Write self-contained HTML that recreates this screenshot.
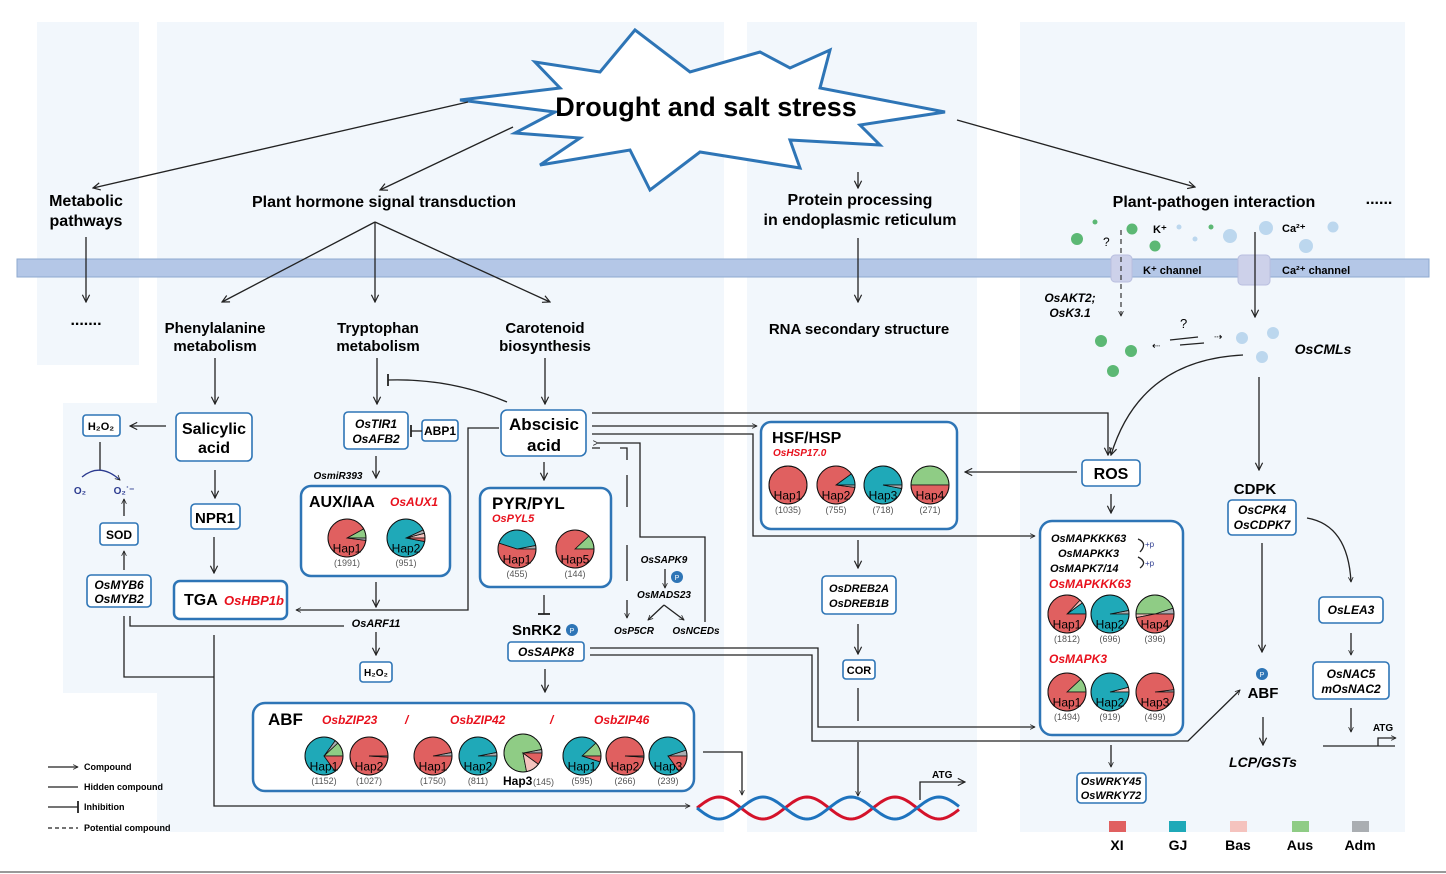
<!DOCTYPE html>
<html><head><meta charset="utf-8"><style>
body{margin:0;background:#fff}
svg{display:block;font-family:"Liberation Sans",Arial,sans-serif}
.b{font-weight:bold}
.i{font-style:italic;font-weight:bold}
.bx{fill:#fff;stroke:#2e75b6;stroke-width:1.6}
.bb{fill:#fff;stroke:#2e75b6;stroke-width:2.5}
.ln{stroke:#222;stroke-width:1.3;fill:none}
.red{fill:#e8101c}
</style></head><body>
<svg id="s" width="1446" height="874" viewBox="0 0 1446 874" xmlns="http://www.w3.org/2000/svg">
<defs>
<marker id="a" viewBox="0 0 10 10" refX="9" refY="5" markerWidth="9" markerHeight="9" orient="auto-start-reverse" markerUnits="userSpaceOnUse"><path d="M1 1 L9 5 L1 9" fill="none" stroke="#222" stroke-width="1.3"/></marker>
<marker id="as" viewBox="0 0 10 10" refX="9" refY="5" markerWidth="6" markerHeight="6" orient="auto" markerUnits="userSpaceOnUse"><path d="M1 1 L9 5 L1 9" fill="none" stroke="#222" stroke-width="1.3"/></marker>
<marker id="t" viewBox="0 0 10 10" refX="5" refY="5" markerWidth="12" markerHeight="12" orient="auto" markerUnits="userSpaceOnUse"><path d="M5 0 L5 10" stroke="#222" stroke-width="1.5"/></marker>
</defs>
<g fill="#f2f7fc">
<rect x="37" y="22" width="102" height="343"/>
<rect x="157" y="22" width="567" height="810"/>
<rect x="63" y="403" width="100" height="290"/>
<rect x="747" y="22" width="230" height="810"/>
<rect x="1020" y="22" width="385" height="810"/>
</g>
<line x1="0" y1="872" x2="1446" y2="872" stroke="#333" stroke-width="1"/>
<rect x="17" y="259" width="1412" height="18" fill="#b4c7e7" stroke="#8ea9cf" stroke-width="1"/>
<polygon points="635,30 690,72 760,52 790,68 830,50 820,88 945,112 860,125 880,145 790,140 800,168 700,152 650,190 630,150 540,165 580,138 515,133 555,112 460,100 560,88 535,62 600,72" fill="#fff" stroke="#2e75b6" stroke-width="3"/>
<text x="706" y="116" font-size="27" class="b" text-anchor="middle">Drought and salt stress</text>
<line class="ln" x1="468" y1="102" x2="93" y2="188" marker-end="url(#a)"/>
<line class="ln" x1="513" y1="127" x2="380" y2="190" marker-end="url(#a)"/>
<line class="ln" x1="858" y1="172" x2="858" y2="188" marker-end="url(#a)"/>
<line class="ln" x1="957" y1="120" x2="1195" y2="187" marker-end="url(#a)"/>
<g font-size="16" class="b">
<text x="86" y="206" text-anchor="middle">Metabolic</text><text x="86" y="226" text-anchor="middle">pathways</text>
<text x="384" y="207" text-anchor="middle">Plant hormone signal transduction</text>
<text x="860" y="205" text-anchor="middle">Protein processing</text><text x="860" y="225" text-anchor="middle">in endoplasmic reticulum</text>
<text x="1214" y="207" text-anchor="middle">Plant-pathogen interaction</text>
<text x="1379" y="204" text-anchor="middle">......</text>
<text x="86" y="325" text-anchor="middle">.......</text>
</g>
<line class="ln" x1="86" y1="237" x2="86" y2="302" marker-end="url(#a)"/>
<line class="ln" x1="375" y1="222" x2="222" y2="302" marker-end="url(#a)"/>
<line class="ln" x1="375" y1="222" x2="375" y2="302" marker-end="url(#a)"/>
<line class="ln" x1="375" y1="222" x2="550" y2="302" marker-end="url(#a)"/>
<line class="ln" x1="858" y1="238" x2="858" y2="302" marker-end="url(#a)"/>
<g font-size="15" class="b" text-anchor="middle">
<text x="215" y="333">Phenylalanine</text><text x="215" y="351">metabolism</text>
<text x="378" y="333">Tryptophan</text><text x="378" y="351">metabolism</text>
<text x="545" y="333">Carotenoid</text><text x="545" y="351">biosynthesis</text>
<text x="859" y="334">RNA secondary structure</text>
</g>
<rect x="1111" y="255" width="21" height="27" rx="4" fill="#cdd1ea" stroke="#b9bedf"/>
<rect x="1238" y="255" width="32" height="30" rx="4" fill="#cdd1ea" stroke="#b9bedf"/>
<text x="1143" y="274" font-size="11" class="b">K⁺ channel</text>
<text x="1282" y="274" font-size="11" class="b">Ca²⁺ channel</text>
<g fill="#5cb874"><circle cx="1077" cy="239" r="6"/><circle cx="1132" cy="229" r="5.5"/><circle cx="1155" cy="246" r="5.5"/><circle cx="1095" cy="222" r="2.5"/><circle cx="1211" cy="227" r="2.5"/><circle cx="1101" cy="341" r="6"/><circle cx="1131" cy="351" r="6"/><circle cx="1113" cy="371" r="6"/></g>
<g fill="#bcd7ee"><circle cx="1179" cy="227" r="2.5"/><circle cx="1195" cy="239" r="2.5"/><circle cx="1230" cy="236" r="7"/><circle cx="1266" cy="228" r="7"/><circle cx="1306" cy="246" r="7"/><circle cx="1333" cy="227" r="5.5"/><circle cx="1242" cy="338" r="6"/><circle cx="1273" cy="333" r="6"/><circle cx="1262" cy="357" r="6"/></g>
<text x="1153" y="233" font-size="11" class="b">K⁺</text>
<text x="1282" y="232" font-size="11" class="b">Ca²⁺</text>
<text x="1103" y="246" font-size="12">?</text>
<text x="1180" y="328" font-size="13">?</text>
<line x1="1121" y1="230" x2="1121" y2="316" stroke="#333" stroke-width="1.2" stroke-dasharray="5,4" marker-end="url(#as)"/>
<line class="ln" x1="1255" y1="232" x2="1255" y2="317" marker-end="url(#a)"/>
<line class="ln" x1="1170" y1="340" x2="1198" y2="337"/><line class="ln" x1="1180" y1="345" x2="1204" y2="343"/>
<text x="1152" y="349" font-size="10">⇠</text><text x="1214" y="340" font-size="10">⇢</text>
<text x="1070" y="302" font-size="12" class="i" text-anchor="middle">OsAKT2;</text>
<text x="1070" y="317" font-size="12" class="i" text-anchor="middle">OsK3.1</text>
<text x="1323" y="354" font-size="14" class="i" text-anchor="middle">OsCMLs</text>
<path class="ln" d="M1243 355 Q1140 360 1111 455" marker-end="url(#a)"/>
<line class="ln" x1="1259" y1="377" x2="1259" y2="470" marker-end="url(#a)"/>
<line class="ln" x1="215" y1="358" x2="215" y2="404" marker-end="url(#a)"/>
<line class="ln" x1="377" y1="358" x2="377" y2="404" marker-end="url(#a)"/>
<line class="ln" x1="545" y1="358" x2="545" y2="404" marker-end="url(#a)"/>
<path class="ln" d="M388 380 L388 380 Q450 378 507 402" marker-start="url(#t)"/>
<rect class="bx" x="176" y="413" width="76" height="48" rx="5"/>
<text x="214" y="434" font-size="16" class="b" text-anchor="middle">Salicylic</text><text x="214" y="453" font-size="16" class="b" text-anchor="middle">acid</text>
<rect class="bx" x="83" y="415" width="37" height="21" rx="3"/><text x="101" y="430" font-size="11" class="b" text-anchor="middle">H₂O₂</text>
<line class="ln" x1="166" y1="426" x2="130" y2="426" marker-end="url(#a)"/>
<line class="ln" x1="100" y1="442" x2="100" y2="470"/>
<path d="M82 477 Q100 462 120 480" fill="none" stroke="#2b3a8f" stroke-width="1.3" marker-end="url(#as)"/>
<text x="80" y="494" font-size="10" fill="#2b3a8f" class="b" text-anchor="middle">O₂</text>
<text x="124" y="494" font-size="10" fill="#2b3a8f" class="b" text-anchor="middle">O₂˙⁻</text>
<line class="ln" x1="124" y1="516" x2="124" y2="499" marker-end="url(#as)"/>
<rect class="bx" x="100" y="523" width="38" height="22" rx="3"/><text x="119" y="539" font-size="12" class="b" text-anchor="middle">SOD</text>
<line class="ln" x1="124" y1="570" x2="124" y2="551" marker-end="url(#as)"/>
<rect class="bx" x="87" y="575" width="64" height="32" rx="4"/>
<text x="119" y="589" font-size="12" class="i" text-anchor="middle">OsMYB6</text><text x="119" y="603" font-size="12" class="i" text-anchor="middle">OsMYB2</text>
<line class="ln" x1="215" y1="470" x2="215" y2="498" marker-end="url(#a)"/>
<rect class="bx" x="191" y="504" width="49" height="25" rx="4"/><text x="215" y="523" font-size="15" class="b" text-anchor="middle">NPR1</text>
<line class="ln" x1="214" y1="537" x2="214" y2="573" marker-end="url(#a)"/>
<rect class="bb" x="174" y="581" width="113" height="38" rx="6"/>
<text x="184" y="605" font-size="16" class="b">TGA</text><text x="224" y="605" font-size="13" class="i red">OsHBP1b</text>
<rect class="bx" x="344" y="412" width="64" height="37" rx="4"/>
<text x="376" y="428" font-size="12" class="i" text-anchor="middle">OsTIR1</text><text x="376" y="443" font-size="12" class="i" text-anchor="middle">OsAFB2</text>
<rect class="bx" x="422" y="420" width="36" height="21" rx="3"/><text x="440" y="435" font-size="12" class="b" text-anchor="middle">ABP1</text>
<line class="ln" x1="422" y1="431" x2="411" y2="431" marker-end="url(#t)"/>
<text x="338" y="479" font-size="10" class="i" text-anchor="middle">OsmiR393</text>
<line class="ln" x1="376" y1="456" x2="376" y2="478" marker-end="url(#a)"/>
<rect class="bb" x="301" y="486" width="149" height="90" rx="10"/>
<text x="309" y="507" font-size="16" class="b">AUX/IAA</text><text x="390" y="506" font-size="12" class="i red">OsAUX1</text>
<line class="ln" x1="376" y1="582" x2="376" y2="607" marker-end="url(#a)"/>
<path class="ln" d="M499 428 L468 428 L468 610 L296 610" marker-end="url(#as)"/>
<text x="376" y="627" font-size="11" class="i" text-anchor="middle">OsARF11</text>
<path class="ln" d="M344 626 L130 626 L130 616"/>
<line class="ln" x1="376" y1="632" x2="376" y2="655" marker-end="url(#a)"/>
<rect class="bx" x="360" y="662" width="32" height="20" rx="3"/><text x="376" y="676" font-size="10" class="b" text-anchor="middle">H₂O₂</text>
<path class="ln" d="M124 616 L124 677 L214 677"/>
<path class="ln" d="M214 635 L214 806 L690 806" marker-end="url(#as)"/>
<rect class="bx" x="501" y="410" width="85" height="46" rx="6"/>
<text x="544" y="430" font-size="17" class="b" text-anchor="middle">Abscisic</text><text x="544" y="451" font-size="17" class="b" text-anchor="middle">acid</text>
<line class="ln" x1="544" y1="462" x2="544" y2="480" marker-end="url(#a)"/>
<rect class="bb" x="480" y="488" width="131" height="99" rx="10"/>
<text x="492" y="509" font-size="17" class="b">PYR/PYL</text><text x="492" y="522" font-size="11" class="i red">OsPYL5</text>
<line class="ln" x1="544" y1="595" x2="544" y2="614" marker-end="url(#t)"/>
<text x="512" y="635" font-size="15" class="b">SnRK2</text>
<circle cx="572" cy="630" r="6" fill="#2e75b6"/><text x="572" y="633" font-size="7" fill="#fff" text-anchor="middle">P</text>
<rect class="bx" x="508" y="642" width="76" height="19" rx="3"/><text x="546" y="656" font-size="12" class="i" text-anchor="middle">OsSAPK8</text>
<line class="ln" x1="545" y1="669" x2="545" y2="692" marker-end="url(#a)"/>
<path class="ln" d="M592 448 L600 448 M620 448 L627 448 L627 460 M627 475 L627 507 M627 545 L627 581" />
<line x1="627" y1="600" x2="627" y2="618" class="ln" marker-end="url(#as)"/>
<path class="ln" d="M598 443 L640 443 L640 537 L705 537 L705 622" marker-start="url(#as)"/>
<text x="664" y="563" font-size="10" class="i" text-anchor="middle">OsSAPK9</text>
<line class="ln" x1="665" y1="569" x2="665" y2="588" marker-end="url(#as)"/>
<circle cx="677" cy="577" r="6" fill="#2e75b6"/><text x="677" y="580" font-size="7" fill="#fff" text-anchor="middle">P</text>
<text x="664" y="598" font-size="10" class="i" text-anchor="middle">OsMADS23</text>
<line class="ln" x1="664" y1="605" x2="648" y2="620" marker-end="url(#as)"/>
<line class="ln" x1="664" y1="605" x2="684" y2="620" marker-end="url(#as)"/>
<text x="634" y="634" font-size="10" class="i" text-anchor="middle">OsP5CR</text>
<text x="696" y="634" font-size="10" class="i" text-anchor="middle">OsNCEDs</text>
<path class="ln" d="M592 413 L1108 413 L1108 455" marker-end="url(#a)"/>
<line class="ln" x1="592" y1="426" x2="757" y2="426" marker-end="url(#as)"/>
<path class="ln" d="M592 434 L753 434 L753 536 L1035 536" marker-end="url(#as)"/>
<path class="ln" d="M590 648 L818 648 L818 727 L1035 727" marker-end="url(#as)"/>
<path class="ln" d="M590 655 L812 655 L812 741 L1188 741 L1240 690" marker-end="url(#as)"/>
<rect class="bb" x="253" y="703" width="441" height="88" rx="12"/>
<text x="268" y="725" font-size="17" class="b">ABF</text>
<g font-size="12" class="i red"><text x="322" y="724">OsbZIP23</text><text x="405" y="724">/</text><text x="450" y="724">OsbZIP42</text><text x="550" y="724">/</text><text x="594" y="724">OsbZIP46</text></g>
<path class="ln" d="M703 752 L742 752 L742 795" marker-end="url(#as)"/>
<path id="dr" fill="none" stroke="#d4122a" stroke-width="3"/>
<path id="db" fill="none" stroke="#1e73be" stroke-width="3"/>
<path class="ln" d="M920 800 L920 782 L965 782" marker-end="url(#a)"/>
<text x="932" y="778" font-size="10" class="b">ATG</text>
<rect class="bb" x="761" y="422" width="196" height="107" rx="10"/>
<text x="772" y="443" font-size="16" class="b">HSF/HSP</text><text x="773" y="456" font-size="10" class="i red">OsHSP17.0</text>
<line class="ln" x1="1077" y1="472" x2="965" y2="472" marker-end="url(#a)"/>
<line class="ln" x1="858" y1="540" x2="858" y2="568" marker-end="url(#a)"/>
<rect class="bx" x="822" y="576" width="74" height="38" rx="4"/>
<text x="859" y="592" font-size="11" class="i" text-anchor="middle">OsDREB2A</text><text x="859" y="607" font-size="11" class="i" text-anchor="middle">OsDREB1B</text>
<line class="ln" x1="858" y1="624" x2="858" y2="654" marker-end="url(#a)"/>
<rect class="bx" x="843" y="660" width="32" height="19" rx="3"/><text x="859" y="674" font-size="11" class="b" text-anchor="middle">COR</text>
<line class="ln" x1="858" y1="688" x2="858" y2="721"/>
<line class="ln" x1="858" y1="742" x2="858" y2="796" marker-end="url(#as)"/>
<rect class="bx" x="1082" y="460" width="58" height="26" rx="4"/><text x="1111" y="479" font-size="16" class="b" text-anchor="middle">ROS</text>
<line class="ln" x1="1111" y1="494" x2="1111" y2="513" marker-end="url(#a)"/>
<rect class="bb" x="1040" y="521" width="143" height="214" rx="12"/>
<g font-size="11" class="i"><text x="1051" y="542">OsMAPKKK63</text><text x="1058" y="557">OsMAPKK3</text><text x="1050" y="572">OsMAPK7/14</text></g>
<path class="ln" d="M1138 539 Q1148 543 1140 552 M1138 557 Q1148 562 1140 568"/>
<text x="1145" y="547" font-size="8" fill="#2b3a8f">+p</text><text x="1145" y="566" font-size="8" fill="#2b3a8f">+p</text>
<text x="1049" y="588" font-size="12" class="i red">OsMAPKKK63</text>
<text x="1049" y="663" font-size="12" class="i red">OsMAPK3</text>
<line class="ln" x1="1111" y1="745" x2="1111" y2="767" marker-end="url(#as)"/>
<rect class="bx" x="1077" y="773" width="69" height="30" rx="4"/>
<text x="1111" y="785" font-size="11" class="i" text-anchor="middle">OsWRKY45</text><text x="1111" y="799" font-size="11" class="i" text-anchor="middle">OsWRKY72</text>
<text x="1255" y="494" font-size="15" class="b" text-anchor="middle">CDPK</text>
<rect class="bx" x="1228" y="500" width="68" height="35" rx="4"/>
<text x="1262" y="514" font-size="12" class="i" text-anchor="middle">OsCPK4</text><text x="1262" y="529" font-size="12" class="i" text-anchor="middle">OsCDPK7</text>
<line class="ln" x1="1262" y1="543" x2="1262" y2="652" marker-end="url(#a)"/>
<circle cx="1262" cy="674" r="6" fill="#2e75b6"/><text x="1262" y="677" font-size="7" fill="#fff" text-anchor="middle">P</text>
<text x="1263" y="698" font-size="15" class="b" text-anchor="middle">ABF</text>
<line class="ln" x1="1263" y1="717" x2="1263" y2="745" marker-end="url(#a)"/>
<text x="1263" y="767" font-size="14" class="i" text-anchor="middle">LCP/GSTs</text>
<path class="ln" d="M1307 518 Q1348 525 1351 582" marker-end="url(#as)"/>
<rect class="bx" x="1319" y="597" width="64" height="26" rx="4"/><text x="1351" y="614" font-size="12" class="i" text-anchor="middle">OsLEA3</text>
<line class="ln" x1="1351" y1="633" x2="1351" y2="655" marker-end="url(#as)"/>
<rect class="bx" x="1313" y="662" width="76" height="37" rx="4"/>
<text x="1351" y="678" font-size="12" class="i" text-anchor="middle">OsNAC5</text><text x="1351" y="693" font-size="12" class="i" text-anchor="middle">mOsNAC2</text>
<line class="ln" x1="1351" y1="708" x2="1351" y2="732" marker-end="url(#as)"/>
<path class="ln" d="M1323 746 L1395 746 M1378 746 L1378 738 L1396 738" marker-end="url(#as)"/>
<text x="1383" y="731" font-size="10" class="b" text-anchor="middle">ATG</text>
<g font-size="9" class="b">
<line class="ln" x1="48" y1="767" x2="78" y2="767" stroke-width="1.5" marker-end="url(#as)"/><text x="84" y="770">Compound</text>
<line class="ln" x1="48" y1="787" x2="78" y2="787"/><text x="84" y="790">Hidden compound</text>
<line class="ln" x1="48" y1="807" x2="78" y2="807" marker-end="url(#t)"/><text x="84" y="810">Inhibition</text>
<line x1="48" y1="828" x2="78" y2="828" stroke="#222" stroke-width="1.3" stroke-dasharray="4,3"/><text x="84" y="831">Potential compound</text>
</g>
<g>
<rect x="1109" y="821" width="17" height="11" fill="#e06060"/><rect x="1169" y="821" width="17" height="11" fill="#1fa9b8"/><rect x="1230" y="821" width="17" height="11" fill="#f5c3be"/><rect x="1292" y="821" width="17" height="11" fill="#8fcc85"/><rect x="1352" y="821" width="17" height="11" fill="#aaaeb2"/>
<g font-size="14" class="b" text-anchor="middle"><text x="1117" y="850">XI</text><text x="1178" y="850">GJ</text><text x="1238" y="850">Bas</text><text x="1300" y="850">Aus</text><text x="1360" y="850">Adm</text></g>
</g>
<g id="pies"></g>
</svg>
<script>
var R='#e06060',G='#1fa9b8',P='#f5c3be',A='#8fcc85',D='#aaaeb2';
var ns='http://www.w3.org/2000/svg';
function el(t,a,p){var e=document.createElementNS(ns,t);for(var k in a)e.setAttribute(k,a[k]);(p||document.getElementById('pies')).appendChild(e);return e;}
function pie(cx,cy,r,sl,lab,cnt){var a=0,tot=0;sl.forEach(function(s){tot+=s[1];});
sl.forEach(function(s){var f=s[1]/tot,a2=a+f*2*Math.PI;
if(f>=0.999){el('circle',{cx:cx,cy:cy,r:r,fill:s[0],stroke:'#111','stroke-width':1});}
else{var x1=cx+r*Math.cos(-a),y1=cy+r*Math.sin(-a),x2=cx+r*Math.cos(-a2),y2=cy+r*Math.sin(-a2);
el('path',{d:'M'+cx+' '+cy+' L'+x1+' '+y1+' A'+r+' '+r+' 0 '+(f>0.5?1:0)+' 0 '+x2+' '+y2+' Z',fill:s[0],stroke:'#111','stroke-width':0.8});}
a=a2;});
el('circle',{cx:cx,cy:cy,r:r,fill:'none',stroke:'#111','stroke-width':1});
if(lab){var t=el('text',{x:cx,y:cy+r*0.75,'font-size':12,'text-anchor':'middle'});t.textContent=lab;}
if(cnt){var c=el('text',{x:cx,y:cy+r+9,'font-size':9,fill:'#555','text-anchor':'middle'});c.textContent='('+cnt+')';}}
var r=19;
pie(347,538,r,[[A,0.08],[R,0.9],[D,0.02]],'Hap1',1991);
pie(406,538,r,[[P,0.04],[D,0.03],[G,0.9],[R,0.03]],'Hap2',951);
pie(517,549,r,[[D,0.03],[G,0.42],[R,0.55]],'Hap1',455);
pie(575,549,r,[[A,0.12],[R,0.88]],'Hap5',144);
pie(788,485,r,[[R,1]],'Hap1',1035);
pie(836,485,r,[[G,0.1],[R,0.88],[D,0.02]],'Hap2',755);
pie(883,485,r,[[G,0.97],[D,0.03]],'Hap3',718);
pie(930,485,r,[[A,0.5],[R,0.5]],'Hap4',271);
pie(324,756,r,[[A,0.12],[D,0.03],[G,0.7],[R,0.15]],'Hap1',1152);
pie(369,756,r,[[R,0.99],[D,0.01]],'Hap2',1027);
pie(433,756,r,[[D,0.03],[R,0.97]],'Hap1',1750);
pie(478,756,r,[[D,0.03],[G,0.97]],'Hap2',811);
pie(523,753,r,[[D,0.03],[A,0.75],[P,0.12],[R,0.1]],'',0);
pie(582,756,r,[[A,0.12],[G,0.83],[R,0.05]],'Hap1',595);
pie(625,756,r,[[R,0.99],[D,0.01]],'Hap2',266);
pie(668,756,r,[[D,0.05],[G,0.8],[R,0.15]],'Hap3',239);
pie(1067,614,r,[[G,0.1],[P,0.03],[R,0.87]],'Hap1',1812);
pie(1110,614,r,[[D,0.03],[G,0.97]],'Hap2',696);
pie(1155,614,r,[[D,0.05],[A,0.45],[P,0.03],[R,0.47]],'Hap4',396);
pie(1067,692,r,[[A,0.12],[R,0.88]],'Hap1',1494);
pie(1110,692,r,[[P,0.04],[G,0.96]],'Hap2',919);
pie(1155,692,r,[[D,0.02],[R,0.98]],'Hap3',499);
var h=el('text',{x:503,y:785,'font-size':12,'font-weight':'bold'});h.textContent='Hap3';
var h2=el('text',{x:533,y:785,'font-size':9,fill:'#555'});h2.textContent='(145)';
var dr='',db='';for(var x=697;x<=960;x+=2){var y=Math.sin((x-697)/88*2*Math.PI)*11;dr+=(x==697?'M':'L')+x+' '+(808-y)+' ';db+=(x==697?'M':'L')+x+' '+(808+y)+' ';}
document.getElementById('dr').setAttribute('d',dr);document.getElementById('db').setAttribute('d',db);
</script>
</body></html>
